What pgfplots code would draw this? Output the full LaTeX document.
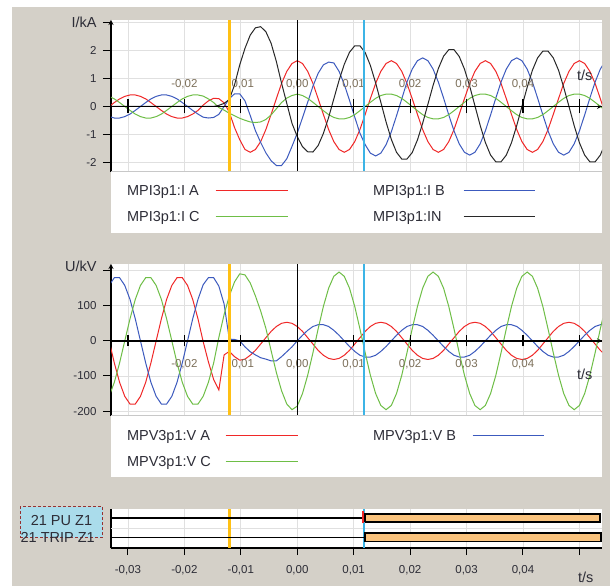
\documentclass[border=0pt]{standalone}
\usepackage{pgfplots}
\pgfplotsset{compat=1.18}
\usepackage{pgfplotstable}
\usepackage{fontspec}
\setmainfont{Liberation Sans}

\definecolor{bggrey}{RGB}{212,208,200}
\definecolor{gridgrey}{RGB}{224,224,224}
\definecolor{sepgrey}{RGB}{200,200,200}
\definecolor{sred}{RGB}{240,40,40}
\definecolor{sblue}{RGB}{60,90,190}
\definecolor{sgreen}{RGB}{110,190,70}
\definecolor{sblack}{RGB}{40,40,40}
\definecolor{curorange}{RGB}{255,192,20}
\definecolor{curblue}{RGB}{60,180,230}
\definecolor{boxorange}{RGB}{250,195,125}
\definecolor{pufill}{RGB}{170,220,235}
\definecolor{puborder}{RGB}{150,50,50}
\definecolor{ticklab}{RGB}{125,112,90}
\definecolor{labtext}{RGB}{45,45,55}

\newcommand{\labfont}{\fontsize{14.5}{16}\selectfont}
\newcommand{\tickfont}{\fontsize{11.5}{13}\selectfont}

\pgfplotsset{
  legwideA/.style={legend image code/.code={\draw[##1,line width=1.2pt] (0pt,0pt) -- (72pt,0pt); \path (0pt,0pt) (157pt,0pt);}},
  legwideV/.style={legend image code/.code={\draw[##1,line width=1.2pt] (0pt,0pt) -- (72pt,0pt); \path (0pt,0pt) (147pt,0pt);}},
  legplain/.style={legend image code/.code={\draw[##1,line width=1.2pt] (0pt,0pt) -- (71pt,0pt);}},
  panelbase/.style={scale only axis, width=491pt, xmin=-33, xmax=54,
    axis line style={-,line width=1.2pt,black},
    every inner x axis line/.append style={-},
    every outer x axis line/.append style={-},
    every outer y axis line/.append style={-},
    every inner y axis line/.append style={-}},
}

\pgfplotstableread{
t ia ib ic ie
-33.33 0 -0.36 0.36 0
-32.41 0.14 -0.41 0.27 0
-31.48 0.27 -0.41 0.14 0
-30.56 0.36 -0.36 0 0
-29.63 0.41 -0.27 -0.14 0
-28.70 0.41 -0.14 -0.27 0
-27.78 0.36 0 -0.36 0
-26.85 0.27 0.14 -0.41 0
-25.93 0.14 0.27 -0.41 0
-25.00 0 0.36 -0.36 0
-24.07 -0.14 0.41 -0.27 0
-23.15 -0.27 0.41 -0.14 0
-22.22 -0.36 0.36 0 0
-21.30 -0.41 0.27 0.14 0
-20.37 -0.41 0.14 0.27 0
-19.44 -0.36 0 0.36 0
-18.52 -0.27 -0.14 0.41 0
-17.59 -0.14 -0.27 0.41 0
-16.67 0.05 -0.38 0.37 0
-15.74 0.20 -0.41 0.27 0
-14.81 0.29 -0.39 0.14 0
-13.89 0.28 -0.28 -0.04 0.04
-12.96 0.13 0.00 -0.13 0.11
-12.04 -0.20 0.28 -0.24 0.25
-11.11 -0.75 0.45 -0.33 0.77
-10.19 -1.18 0.45 -0.42 1.48
-9.26 -1.53 0.20 -0.49 2.07
-8.33 -1.63 -0.32 -0.55 2.54
-7.41 -1.53 -0.86 -0.57 2.80
-6.48 -1.25 -1.28 -0.55 2.84
-5.56 -0.82 -1.65 -0.46 2.66
-4.63 -0.28 -1.93 -0.30 2.25
-3.70 0.28 -2.10 -0.08 1.60
-2.78 0.82 -2.10 0.14 0.83
-1.85 1.25 -1.86 0.30 0.11
-0.93 1.53 -1.42 0.39 -0.60
0.00 1.63 -0.95 0.44 -1.07
0.93 1.53 -0.40 0.39 -1.43
1.85 1.25 0.15 0.29 -1.61
2.78 0.82 0.72 0.15 -1.62
3.70 0.28 1.18 0 -1.39
4.63 -0.28 1.48 -0.15 -0.96
5.56 -0.82 1.58 -0.29 -0.39
6.48 -1.25 1.55 -0.39 0.27
7.41 -1.53 1.25 -0.44 0.93
8.33 -1.63 0.79 -0.44 1.50
9.26 -1.53 0.22 -0.39 1.93
10.19 -1.25 -0.38 -0.29 2.16
11.11 -0.82 -0.95 -0.15 2.16
12.04 -0.28 -1.36 0 1.92
12.96 0.28 -1.66 0.15 1.46
13.89 0.82 -1.76 0.29 0.84
14.81 1.25 -1.66 0.39 0.15
15.74 1.53 -1.36 0.44 -0.55
16.67 1.63 -0.90 0.44 -1.17
17.59 1.53 -0.33 0.39 -1.63
18.52 1.25 0.27 0.29 -1.87
19.44 0.82 0.87 0.15 -1.87
20.37 0.28 1.33 0 -1.64
21.30 -0.28 1.63 -0.15 -1.19
22.22 -0.82 1.73 -0.29 -0.60
23.15 -1.25 1.63 -0.39 0.08
24.07 -1.53 1.33 -0.44 0.75
25.00 -1.63 0.87 -0.44 1.35
25.93 -1.53 0.30 -0.39 1.79
26.85 -1.25 -0.30 -0.29 2.02
27.78 -0.82 -0.87 -0.15 2.02
28.70 -0.28 -1.33 0 1.78
29.63 0.28 -1.63 0.15 1.33
30.56 0.82 -1.73 0.29 0.72
31.48 1.25 -1.63 0.39 0.03
32.41 1.53 -1.33 0.44 -0.67
33.33 1.63 -0.87 0.44 -1.28
34.26 1.53 -0.30 0.39 -1.73
35.19 1.25 0.30 0.29 -1.97
36.11 0.82 0.87 0.15 -1.97
37.04 0.28 1.33 0 -1.73
37.96 -0.28 1.63 -0.15 -1.29
38.89 -0.82 1.73 -0.29 -0.68
39.81 -1.25 1.63 -0.39 0
40.74 -1.53 1.33 -0.44 0.68
41.67 -1.63 0.87 -0.44 1.29
42.59 -1.53 0.30 -0.39 1.73
43.52 -1.25 -0.30 -0.29 1.97
44.44 -0.82 -0.87 -0.15 1.97
45.37 -0.28 -1.33 0 1.73
46.30 0.28 -1.63 0.15 1.29
47.22 0.82 -1.73 0.29 0.68
48.15 1.25 -1.63 0.39 0
49.07 1.53 -1.33 0.44 -0.68
50.00 1.63 -0.87 0.44 -1.29
50.93 1.53 -0.30 0.39 -1.73
51.85 1.25 0.30 0.29 -1.97
52.78 0.82 0.87 0.15 -1.97
53.70 0.28 1.33 0 -1.73
54.63 -0.28 1.63 -0.15 -1.29
}\curr

\pgfplotstableread{
t va vb vc
-33.33 0 158 -158
-32.41 -63 180 -118
-31.48 -118 180 -63
-30.56 -158 158 0
-29.63 -180 118 63
-28.70 -180 63 118
-27.78 -158 0 158
-26.85 -118 -63 180
-25.93 -63 -118 180
-25.00 0 -158 158
-24.07 63 -180 118
-23.15 118 -180 63
-22.22 158 -158 0
-21.30 180 -118 -63
-20.37 180 -63 -118
-19.44 158 0 -158
-18.52 118 63 -180
-17.59 63 118 -180
-16.67 -2 160 -158
-15.74 -60 180 -118
-14.81 -110 180 -63
-13.89 -140 156 10
-12.96 -40 105 75
-12.04 -30 5 128
-11.11 -45 4 168
-10.19 -55 0 191
-9.26 -52 -17 188
-8.33 -41 -31 165
-7.41 -27 -40 128
-6.48 -9 -48 85
-5.56 9 -52 36
-4.63 27 -57 -28
-3.70 41 -57 -90
-2.78 50 -45 -142
-1.85 53 -31 -180
-0.93 50 -17 -196
0.00 41 0 -186
0.93 27 16 -150
1.85 9 30 -98
2.78 -9 41 -34
3.70 -27 46 34
4.63 -41 46 98
5.56 -50 41 150
6.48 -53 30 184
7.41 -50 16 196
8.33 -41 0 184
9.26 -27 -16 150
10.19 -9 -30 98
11.11 9 -41 34
12.04 27 -46 -34
12.96 41 -46 -98
13.89 50 -41 -150
14.81 53 -30 -184
15.74 50 -16 -196
16.67 41 0 -184
17.59 27 16 -150
18.52 9 30 -98
19.44 -9 41 -34
20.37 -27 46 34
21.30 -41 46 98
22.22 -50 41 150
23.15 -53 30 184
24.07 -50 16 196
25.00 -41 0 184
25.93 -27 -16 150
26.85 -9 -30 98
27.78 9 -41 34
28.70 27 -46 -34
29.63 41 -46 -98
30.56 50 -41 -150
31.48 53 -30 -184
32.41 50 -16 -196
33.33 41 0 -184
34.26 27 16 -150
35.19 9 30 -98
36.11 -9 41 -34
37.04 -27 46 34
37.96 -41 46 98
38.89 -50 41 150
39.81 -53 30 184
40.74 -50 16 196
41.67 -41 0 184
42.59 -27 -16 150
43.52 -9 -30 98
44.44 9 -41 34
45.37 27 -46 -34
46.30 41 -46 -98
47.22 50 -41 -150
48.15 53 -30 -184
49.07 50 -16 -196
50.00 41 0 -184
50.93 27 16 -150
51.85 9 30 -98
52.78 -9 41 -34
53.70 -27 46 34
54.63 -41 46 98
}\volt

\begin{document}
\begin{tikzpicture}
\fill[white] (0pt,0pt) rectangle (610pt,586pt);
\fill[bggrey] (12pt,0pt) rectangle (610pt,579pt);
\fill[white] (111pt,353pt) rectangle (602pt,414pt);
\fill[white] (111pt,109pt) rectangle (602pt,170pt);

% ===== current panel: curves, grid, y axis, legend
\begin{axis}[panelbase, at={(111pt,414pt)}, anchor=south west, height=152pt,
  ymin=-2.331, ymax=3.078,
  axis background/.style={fill=white},
  axis x line=middle, axis y line=left,
  xtick={-30,-20,...,50}, xticklabels={}, xtick style={draw=none},
  ytick={-2,-1,0,1,2,3}, yticklabels={-2,-1,0,1,2,{\labfont I/kA}},
  tick align=outside, major tick length=8pt,
  ytick style={black,line width=1pt},
  yticklabel style={font=\tickfont, text=labtext, anchor=east, inner sep=0pt, xshift=-6.3pt},
  grid=major, major grid style={gridgrey,line width=0.8pt},
  legend columns=2, legend plot pos=right, legend cell align=left,
  legend style={at={(axis description cs:0.0326,-0.0888)}, anchor=north west,
    draw=none, fill=none, inner sep=0pt, outer sep=0pt, column sep=0pt, row sep=15.6pt,
    font=\labfont, text=labtext,
    nodes={inner sep=0pt, outer sep=0pt, text height=10.4pt, text depth=0pt}},
]
\addplot[sred, line width=1pt, legwideA] table[x=t,y=ia]{\curr};
\addlegendentry{\makebox[88pt][l]{MPI3p1:I A}}
\addplot[sblue, line width=1pt, legplain] table[x=t,y=ib]{\curr};
\addlegendentry{\makebox[90pt][l]{MPI3p1:I B}}
\addplot[sgreen, line width=1pt, legwideA] table[x=t,y=ic]{\curr};
\addlegendentry{\makebox[88pt][l]{MPI3p1:I C}}
\addplot[sblack, line width=1pt, legplain] table[x=t,y=ie]{\curr};
\addlegendentry{\makebox[90pt][l]{MPI3p1:IN}}
\end{axis}

% ===== current panel: x axis line, ticks, cursors
\begin{axis}[panelbase, at={(111pt,414pt)}, anchor=south west, height=152pt,
  ymin=-2.331, ymax=3.078,
  axis x line=middle, axis y line=none,
  axis line style={-,line width=1.5pt,black},
  xtick={-30,-20,...,50},
  xticklabels={{},{-0,02},{-0,01},{0,00},{0,01},{0,02},{0,03},{0,04},{}},
  ytick=\empty,
  tick align=center, major tick length=14pt,
  xtick style={black,line width=1.2pt},
  xticklabel style={font=\tickfont, text=ticklab, anchor=base, inner sep=0pt, yshift=26pt},
  xlabel={t/s}, xlabel style={at={(axis description cs:0.965,0.638)}, anchor=center, font=\labfont, text=labtext, inner sep=0pt},
]
\addplot[black,line width=1.2pt] coordinates {(0,-2.331) (0,3.078)};
\addplot[curorange,line width=2.8pt] coordinates {(-12.07,-2.331) (-12.07,3.078)};
\addplot[curblue,line width=2.2pt] coordinates {(11.77,-2.331) (11.77,3.078)};
\end{axis}

% ===== voltage panel: curves, grid, y axis, legend
\begin{axis}[panelbase, at={(111pt,170pt)}, anchor=south west, height=152pt,
  ymin=-214, ymax=219,
  axis background/.style={fill=white},
  axis x line=middle, axis y line=left,
  xtick={-30,-20,...,50}, xticklabels={}, xtick style={draw=none},
  ytick={-200,-100,0,100,200}, yticklabels={-200,-100,0,100,{\labfont\raisebox{4.5pt}[10pt][0pt]{U/kV}}},
  tick align=outside, major tick length=8pt,
  ytick style={black,line width=1pt},
  yticklabel style={font=\tickfont, text=labtext, anchor=east, inner sep=0pt, xshift=-6.3pt},
  grid=major, major grid style={gridgrey,line width=0.8pt},
  legend columns=2, legend plot pos=right, legend cell align=left,
  legend style={at={(axis description cs:0.0326,-0.0954)}, anchor=north west,
    draw=none, fill=none, inner sep=0pt, outer sep=0pt, column sep=0pt, row sep=15.6pt,
    font=\labfont, text=labtext,
    nodes={inner sep=0pt, outer sep=0pt, text height=10.4pt, text depth=0pt}},
]
\addplot[sred, line width=1pt, legwideV] table[x=t,y=va]{\volt};
\addlegendentry{\makebox[98pt][l]{MPV3p1:V A}}
\addplot[sblue, line width=1pt, legplain] table[x=t,y=vb]{\volt};
\addlegendentry{\makebox[99pt][l]{MPV3p1:V B}}
\addplot[sgreen, line width=1pt, legwideV] table[x=t,y=vc]{\volt};
\addlegendentry{\makebox[98pt][l]{MPV3p1:V C}}
\end{axis}

% ===== voltage panel: x axis line, ticks, cursors
\begin{axis}[panelbase, at={(111pt,170pt)}, anchor=south west, height=152pt,
  ymin=-214, ymax=219,
  axis x line=middle, axis y line=none,
  axis line style={-,line width=1.5pt,black},
  xtick={-30,-20,...,50},
  xticklabels={{},{-0,02},{-0,01},{0,00},{0,01},{0,02},{0,03},{0,04},{}},
  ytick=\empty,
  tick align=center, major tick length=11pt,
  xtick style={black,line width=1.2pt},
  xticklabel style={font=\tickfont, text=ticklab, anchor=base, inner sep=0pt, yshift=-21pt},
  xlabel={t/s}, xlabel style={at={(axis description cs:0.965,0.276)}, anchor=center, font=\labfont, text=labtext, inner sep=0pt},
]
\addplot[black,line width=1.2pt] coordinates {(0,-214) (0,219)};
\addplot[curorange,line width=2.8pt] coordinates {(-12.07,-214) (-12.07,219)};
\addplot[curblue,line width=2.2pt] coordinates {(11.77,-214) (11.77,219)};
\end{axis}

% ===== binary signals panel
\begin{axis}[panelbase, at={(111pt,38pt)}, anchor=south west, height=39pt,
  ymin=0, ymax=39,
  axis background/.style={fill=white},
  axis x line=bottom, axis y line=left,
  axis line style={-,line width=1.5pt,black},
  xtick={-30,-20,...,50},
  xticklabels={{-0,03},{-0,02},{-0,01},{0,00},{0,01},{0,02},{0,03},{0,04},{}},
  tick align=outside, major tick length=7pt,
  xtick style={black,line width=1pt},
  xticklabel style={font=\tickfont, text=labtext, anchor=base, inner sep=0pt, yshift=-18pt},
  xmajorgrids=true, ymajorgrids=false, major grid style={gridgrey,line width=0.8pt},
  ytick={30.3}, yticklabels={21 PU Z1},
  ytick style={draw=none},
  yticklabel style={font=\labfont, text=labtext, fill=pufill, draw=puborder, densely dashed, line width=0.8pt,
    inner xsep=10.5pt, inner ysep=8pt, text height=10.4pt, text depth=4.6pt, anchor=east, yshift=-4.6pt, xshift=-1pt},
  extra y ticks={10.3}, extra y tick labels={21 TRIP Z1},
  extra y tick style={ytick style={draw=none},
    every y tick label/.style={font=\labfont, text=labtext, anchor=east, inner sep=0pt, xshift=-9pt}},
  xlabel={t/s}, xlabel style={at={(axis description cs:0.967,-0.744)}, anchor=center, font=\labfont, text=labtext, inner sep=0pt},
]
\addplot[gridgrey,line width=0.8pt] coordinates {(-33,19.7) (54,19.7)};
\addplot[curorange,line width=2.8pt] coordinates {(-12.07,0) (-12.07,39)};
\addplot[curblue,line width=2.2pt] coordinates {(11.77,0) (11.77,39)};
\addplot[black,line width=2pt] coordinates {(-33,30.3) (11.77,30.3)};
\addplot[black,line width=1.2pt] coordinates {(-33,10.3) (11.77,10.3)};
\addplot[fill=boxorange, draw=black, line width=2pt, line join=miter] coordinates {(12.0,26.4) (53.7,26.4) (53.7,34.1) (12.0,34.1) (12.0,26.4)};
\addplot[fill=boxorange, draw=black, line width=1.5pt, line join=miter] coordinates {(12.0,6.35) (53.8,6.35) (53.8,14.85) (12.0,14.85) (12.0,6.35)};
\addplot[sred,line width=1.6pt] coordinates {(11.7,24.5) (11.7,36.5)};
\end{axis}

\draw[sepgrey,line width=1pt] (111pt,414pt) -- (602pt,414pt);
\draw[sepgrey,line width=1pt] (111pt,170pt) -- (602pt,170pt);
\end{tikzpicture}
\end{document}
